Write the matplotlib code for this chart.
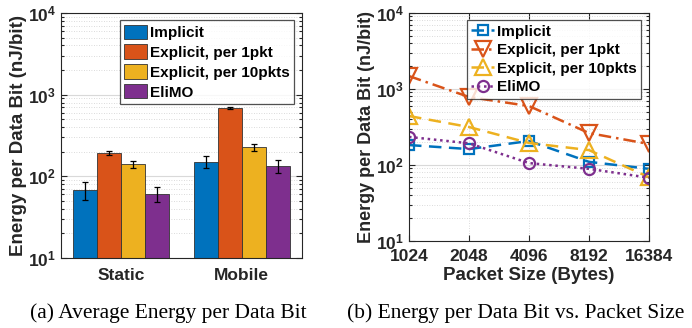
import numpy as np
import matplotlib as mpl
mpl.use("Agg")
import matplotlib.pyplot as plt
from matplotlib.ticker import FixedLocator, FuncFormatter, LogLocator, NullFormatter

mpl.rcParams["font.family"] = "Liberation Sans"
mpl.rcParams["font.weight"] = "bold"
mpl.rcParams["axes.labelweight"] = "bold"
mpl.rcParams["mathtext.fontset"] = "custom"
mpl.rcParams["mathtext.rm"] = "Liberation Sans:bold"
mpl.rcParams["mathtext.bf"] = "Liberation Sans:bold"
mpl.rcParams["mathtext.it"] = "Liberation Sans:bold"

# data
series = ["Implicit", "Explicit, per 1pkt", "Explicit, per 10pkts", "EliMO"]
colors = ["#0072BD", "#D95319", "#EDB120", "#7E2F8E"]
scenarios = ["Static", "Mobile"]
avg_energy = [[68, 150], [193, 685], [141, 228], [61, 134]]
avg_err = [[17, 25], [12, 25], [13, 22], [13, 25]]

pkt_sizes = ["1024", "2048", "4096", "8192", "16384"]
implicit = [183, 162, 207, 110, 89]
explicit_1 = [1480, 785, 597, 263, 189]
explicit_10 = [441, 316, 195, 157, 69]
elimo = [234, 193, 106, 89, 68]

txt = "#262626"
fig = plt.figure(figsize=(6.92, 3.28), dpi=100)

def style_axis(ax, lblsize):
    ax.set_yscale("log")
    ax.set_ylim(10, 1e4)
    ax.yaxis.set_major_locator(FixedLocator([10, 100, 1000, 10000]))
    ax.yaxis.set_major_formatter(FuncFormatter(lambda v, p: "$10^{%d}$" % round(np.log10(v))))
    ax.yaxis.set_minor_locator(LogLocator(base=10, subs=np.arange(2, 10)))
    ax.yaxis.set_minor_formatter(NullFormatter())
    ax.tick_params(which="both", direction="in", top=True, right=True, colors=txt,
                   labelsize=12.5, width=0.8)
    ax.tick_params(which="major", length=4)
    ax.tick_params(which="minor", length=2)
    ax.grid(True, which="major", axis="y", color="#d9d9d9", lw=0.8, ls="-")
    ax.grid(True, which="minor", axis="y", color="#cfcfcf", lw=0.6, ls=(0, (1, 2)))
    ax.set_axisbelow(True)
    for s in ax.spines.values():
        s.set_color(txt)
        s.set_linewidth(0.8)
    ax.set_ylabel("Energy per Data Bit (nJ/bit)", fontsize=lblsize, color=txt, labelpad=1)

leg_kw = dict(loc="upper right", fontsize=11, frameon=True, fancybox=False, edgecolor=txt,
              borderpad=0.3, labelspacing=0.3, handletextpad=0.2, borderaxespad=0)

#### (a)
ax1 = fig.add_axes([61 / 692, 1 - 258 / 328, 241 / 692, 245 / 328])
style_axis(ax1, 13.5)
xg = np.arange(1, len(scenarios) + 1)
w = 0.2
for i, name in enumerate(series):
    ax1.bar(xg + (i - 1.5) * w, avg_energy[i], width=w, color=colors[i],
            edgecolor="#333333", linewidth=0.6, label=name,
            yerr=avg_err[i], error_kw=dict(ecolor="black", elinewidth=0.9, capsize=2.5, capthick=0.9))
ax1.set_xlim(0.5, 2.5)
ax1.set_xticks(xg)
ax1.set_xticklabels(scenarios)
ax1.tick_params(axis="x", which="both", length=0, pad=7)
leg = ax1.legend(handlelength=1.45, handleheight=1.05, **leg_kw)
leg.set_bbox_to_anchor(((294 - 61) / 241, (258 - 20) / 245), transform=ax1.transAxes)
leg.get_frame().set_linewidth(0.9)

#### (b)
ax2 = fig.add_axes([409 / 692, 1 - 241 / 328, 240 / 692, 228 / 328])
style_axis(ax2, 13)
xp = np.arange(len(pkt_sizes))
ax2.plot(xp, implicit, color=colors[0], ls=(0, (5, 3)), lw=1.8, marker="s", ms=7,
         mfc="none", mew=1.6, label=series[0])
ax2.plot(xp, explicit_1, color=colors[1], ls=(0, (5, 2, 1, 2)), lw=1.8, marker="v", ms=11,
         mfc="none", mew=1.6, label=series[1])
ax2.plot(xp, explicit_10, color=colors[2], ls=(0, (5, 3)), lw=1.8, marker="^", ms=11,
         mfc="none", mew=1.6, label=series[2])
ax2.plot(xp, elimo, color=colors[3], ls=(0, (1, 1.5)), lw=1.8, marker="o", ms=8,
         mfc="none", mew=1.6, label=series[3])
ax2.set_xlim(0, len(pkt_sizes) - 1)
ax2.set_xticks(xp)
ax2.set_xticklabels(pkt_sizes)
ax2.tick_params(axis="x", which="major", pad=6)
ax2.grid(True, which="major", axis="x", color="#cfcfcf", lw=0.6, ls=(0, (1, 2)))
ax2.set_xlabel("Packet Size (Bytes)", fontsize=13.5, color=txt, labelpad=2)
leg2 = ax2.legend(handlelength=1.45, **leg_kw)
leg2.set_bbox_to_anchor(((641 - 409) / 240, (241 - 20) / 228), transform=ax2.transAxes)
leg2.get_frame().set_linewidth(0.9)

# captions
fig.text(168 / 692, 1 - 318 / 328, "(a) Average Energy per Data Bit", ha="center", va="baseline",
         family="Liberation Serif", weight="normal", fontsize=15.5, color="black")
fig.text(516 / 692, 1 - 318 / 328, "(b) Energy per Data Bit vs. Packet Size", ha="center", va="baseline",
         family="Liberation Serif", weight="normal", fontsize=15.5, color="black")

plt.savefig("out.png", dpi=100)
